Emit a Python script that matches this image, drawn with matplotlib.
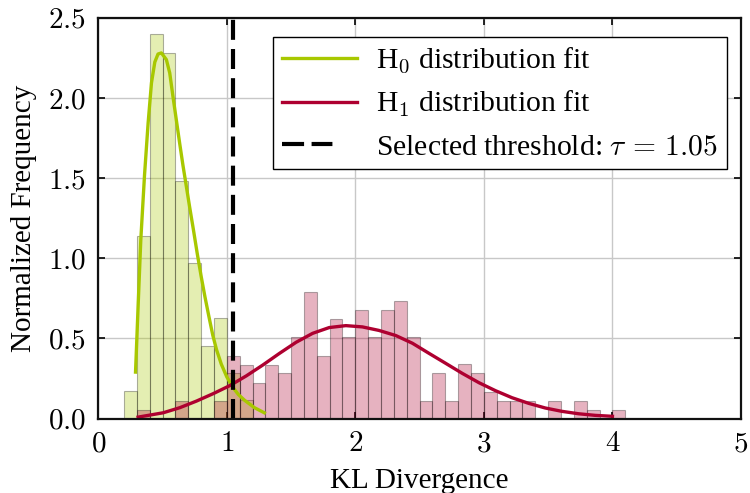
import numpy as np
import matplotlib
matplotlib.use('Agg')
import matplotlib.pyplot as plt
from matplotlib.ticker import FuncFormatter

plt.rcParams['font.family'] = ['Liberation Serif', 'DejaVu Serif']
plt.rcParams['mathtext.fontset'] = 'cm'

# histogram bins (width 0.1), densities
bin_width = 0.1
h0_left = [0.2, 0.3, 0.4, 0.5, 0.6, 0.7, 0.8, 0.9, 1.0, 1.1]
h0_dens = [0.17, 1.14, 2.40, 2.28, 1.48, 0.97, 0.455, 0.625, 0.285, 0.113]

h1_left = [0.3, 0.4, 0.5, 0.6, 0.7, 0.8, 0.9, 1.0, 1.1, 1.2, 1.3, 1.4, 1.5, 1.6, 1.7,
           1.8, 1.9, 2.0, 2.1, 2.2, 2.3, 2.4, 2.5, 2.6, 2.7, 2.8, 2.9, 3.0, 3.1, 3.2,
           3.3, 3.4, 3.5, 3.6, 3.7, 3.8, 3.9, 4.0]
h1_dens = [0.054, 0.0, 0.0, 0.11, 0.0, 0.0, 0.11, 0.39, 0.336, 0.225, 0.336, 0.282, 0.51, 0.79, 0.39,
           0.62, 0.51, 0.68, 0.51, 0.68, 0.733, 0.51, 0.109, 0.282, 0.109, 0.338, 0.282, 0.168, 0.109, 0.109,
           0.109, 0.0, 0.109, 0.0, 0.109, 0.053, 0.0, 0.053]

# fitted curves, points
h0_fit_x = [0.29, 0.31, 0.331, 0.36, 0.388, 0.414, 0.44, 0.465, 0.491, 0.53, 0.556, 0.581,
            0.608, 0.633, 0.659, 0.685, 0.711, 0.74, 0.77, 0.80, 0.83, 0.86, 0.891, 0.92,
            0.957, 1.0, 1.047, 1.09, 1.137, 1.215, 1.292]
h0_fit_y = [0.29, 0.70, 1.116, 1.52, 1.845, 2.095, 2.225, 2.275, 2.282, 2.24, 2.157, 2.011,
            1.86, 1.72, 1.58, 1.45, 1.32, 1.18, 1.03, 0.89, 0.76, 0.64, 0.52, 0.43,
            0.34, 0.26, 0.195, 0.15, 0.115, 0.068, 0.036]

h1_fit_x = [0.31, 0.505, 0.635, 0.764, 0.893, 1.022, 1.151, 1.28, 1.41, 1.539, 1.668, 1.797,
            1.926, 2.055, 2.184, 2.315, 2.444, 2.573, 2.702, 2.832, 2.961, 3.09, 3.219,
            3.348, 3.477, 3.607, 3.736, 3.865, 4.0]
h1_fit_y = [0.009, 0.036, 0.068, 0.109, 0.155, 0.205, 0.266, 0.334, 0.407, 0.476, 0.532, 0.568,
            0.58, 0.572, 0.55, 0.518, 0.47, 0.407, 0.345, 0.282, 0.224, 0.174, 0.13,
            0.095, 0.066, 0.045, 0.03, 0.02, 0.014]

tau = 1.05

green = '#a8c800'
red = '#ae0030'

fig = plt.figure(figsize=(7.5, 4.93), dpi=100)
ax = fig.add_axes([0.131, 0.151, 0.857, 0.8125])

ax.grid(True, color='#c8c8c8', lw=1.0)
ax.set_axisbelow(True)

ax.bar(h0_left, h0_dens, width=bin_width, align='edge', color=green, alpha=0.3,
       edgecolor='k', linewidth=0.8)
ax.bar(h1_left, h1_dens, width=bin_width, align='edge', color=red, alpha=0.3,
       edgecolor='k', linewidth=0.8)

ax.plot(h0_fit_x, h0_fit_y, color=green, lw=2.4, label=r'H$_0$ distribution fit')
ax.plot(h1_fit_x, h1_fit_y, color=red, lw=2.4, label=r'H$_1$ distribution fit')
ax.axvline(tau, color='k', lw=3, ls=(0, (4.8, 2.2)),
           label=r'Selected threshold: $\tau\,=\,1.05$')

ax.set_xlim(0, 5)
ax.set_ylim(0, 2.5)
ax.set_xticks([0, 1, 2, 3, 4, 5])
ax.set_yticks([0, 0.5, 1.0, 1.5, 2.0, 2.5])
ax.xaxis.set_major_formatter(FuncFormatter(lambda v, p: r'$%d$' % v))
ax.yaxis.set_major_formatter(FuncFormatter(lambda v, p: r'$%.1f$' % v))
ax.tick_params(direction='in', length=5, width=1.2, labelsize=21, top=True, right=True)
ax.tick_params(axis='x', pad=9)
ax.tick_params(axis='y', pad=9)
for s in ax.spines.values():
    s.set_linewidth(1.6)
    s.set_color('#111111')

ax.set_xlabel('KL Divergence', fontsize=21, labelpad=8)
ax.set_ylabel('Normalized Frequency', fontsize=21, labelpad=8)

leg = ax.legend(loc='upper right', bbox_to_anchor=(0.978, 0.953), borderaxespad=0,
                fontsize=21.3, frameon=True, fancybox=False, edgecolor='k',
                handlelength=2.55, handletextpad=0.65, labelspacing=0.48, borderpad=0.3)
leg.get_frame().set_linewidth(1.0)
leg.get_frame().set_alpha(1.0)
leg.get_lines()[2].set_linestyle((0, (5.3, 1.8, 5.0, 20)))

fig.savefig('out.png', dpi=100)
